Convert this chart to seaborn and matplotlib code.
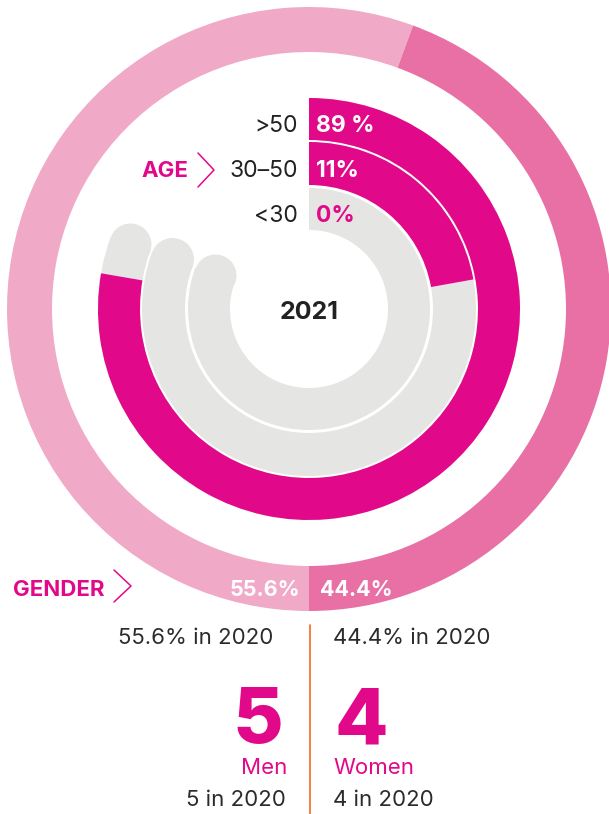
import numpy as np
import matplotlib
matplotlib.use("Agg")
import matplotlib.pyplot as plt
import seaborn as sns

# data
year = 2021
age_groups = [">50", "30–50", "<30"]
age_share = [89, 11, 0]
age_text = ["89 %", "11%", "0%"]
gender = ["Men", "Women"]
gender_share = [55.6, 44.4]
gender_share_2020 = [55.6, 44.4]
gender_count = [5, 4]
gender_count_2020 = [5, 4]

sns.set_theme(style="white")
plt.rcParams["font.family"] = ["Inter", "DejaVu Sans"]

MAGENTA = "#E2088A"
GREY = "#E5E5E4"
gender_colors = sns.color_palette(["#F0A9C7", "#E870A5"])

W, H = 609, 814
CX, CY = 309, 309
R_MAX = 302


def fx(x):
    return x / W


def fy(y):
    return 1 - y / H


fig = plt.figure(figsize=(W / 100, H / 100), dpi=100)
ax = fig.add_axes([fx(CX - R_MAX), fy(CY + R_MAX), 2 * R_MAX / W, 2 * R_MAX / H],
                  projection="polar")
ax.set_theta_zero_location("N")
ax.set_theta_direction(-1)
ax.set_ylim(0, R_MAX)
ax.set_axis_off()

# outer gender ring, starting at 6 o'clock and running clockwise
start = 180.0
for share, col in zip(gender_share, gender_colors):
    w = share / 100 * 360
    ax.bar(np.deg2rad(start + w / 2), R_MAX - 257, width=np.deg2rad(w), bottom=257,
           color=col, linewidth=0, clip_on=False)
    start += w

# age tracks
rings = [(169, 211), (124, 167), (79, 121)]
TRACK_END = 290


def age_angle(v):
    # radial-bar scale used by the design (not linear)
    return 300 * (v / 100) ** 0.6


for (r0, r1), v in zip(rings, age_share):
    ax.bar(np.deg2rad(TRACK_END / 2), r1 - r0, width=np.deg2rad(TRACK_END), bottom=r0,
           color=GREY, linewidth=0, zorder=1)
    ax.plot([np.deg2rad(TRACK_END)], [(r0 + r1) / 2], "o", color=GREY,
            ms=(r1 - r0) * 0.72, mew=0, zorder=1)
    a = age_angle(v)
    if a > 0:
        ax.bar(np.deg2rad(a / 2), r1 - r0, width=np.deg2rad(a), bottom=r0,
               color=MAGENTA, linewidth=0, zorder=2)

# age labels
for (r0, r1), grp, v, txt in zip(rings, age_groups, age_share, age_text):
    yb = CY - (r0 + r1) / 2 + 13.5
    fig.text(fx(298), fy(yb), grp, ha="right", va="baseline", fontsize=16.5, color="#222222")
    fig.text(fx(316), fy(yb), txt, ha="left", va="baseline", fontsize=16.5, fontweight="bold",
             color="white" if v > 0 else MAGENTA)

yb_mid = CY - (rings[1][0] + rings[1][1]) / 2 + 13.5
fig.text(fx(188), fy(yb_mid), "AGE", ha="right", va="baseline", fontsize=16,
         fontweight="bold", color=MAGENTA)
fig.add_artist(plt.Line2D([fx(198), fx(214), fx(198)], [fy(153), fy(170), fy(187)],
                          color=MAGENTA, lw=1.1, transform=fig.transFigure))

fig.text(fx(CX), fy(319), str(year), ha="center", va="baseline", fontsize=18,
         fontweight="bold", color="#222222")

# gender ring labels
fig.text(fx(13), fy(596), "GENDER", ha="left", va="baseline", fontsize=16,
         fontweight="bold", color=MAGENTA)
fig.add_artist(plt.Line2D([fx(114), fx(131), fx(114)], [fy(570), fy(586), fy(602)],
                          color=MAGENTA, lw=1.1, transform=fig.transFigure))
fig.text(fx(300), fy(596), f"{gender_share[0]}%", ha="right", va="baseline", fontsize=15.5,
         fontweight="bold", color="white")
fig.text(fx(320), fy(596), f"{gender_share[1]}%", ha="left", va="baseline", fontsize=15.5,
         fontweight="bold", color="white")

# lower panel
fig.add_artist(plt.Line2D([fx(309.5), fx(309.5)], [fy(625), fy(814)],
                          color="#F26A21", lw=1.2, transform=fig.transFigure))

DARK = "#2B2B2B"
fig.text(fx(273), fy(644), f"{gender_share_2020[0]}% in 2020", ha="right", va="baseline",
         fontsize=16, color=DARK)
fig.text(fx(333), fy(644), f"{gender_share_2020[1]}% in 2020", ha="left", va="baseline",
         fontsize=16, color=DARK)

fig.text(fx(283), fy(743), str(gender_count[0]), ha="right", va="baseline", fontsize=56,
         fontweight="heavy", color=MAGENTA)
fig.text(fx(335), fy(743), str(gender_count[1]), ha="left", va="baseline", fontsize=56,
         fontweight="heavy", color=MAGENTA)

fig.text(fx(287), fy(774), gender[0], ha="right", va="baseline", fontsize=16, color=MAGENTA)
fig.text(fx(333), fy(774), gender[1], ha="left", va="baseline", fontsize=16, color=MAGENTA)

fig.text(fx(286), fy(806), f"{gender_count_2020[0]} in 2020", ha="right", va="baseline",
         fontsize=16, color=DARK)
fig.text(fx(333), fy(806), f"{gender_count_2020[1]} in 2020", ha="left", va="baseline",
         fontsize=16, color=DARK)

fig.savefig("out.png", dpi=100, facecolor="white")
